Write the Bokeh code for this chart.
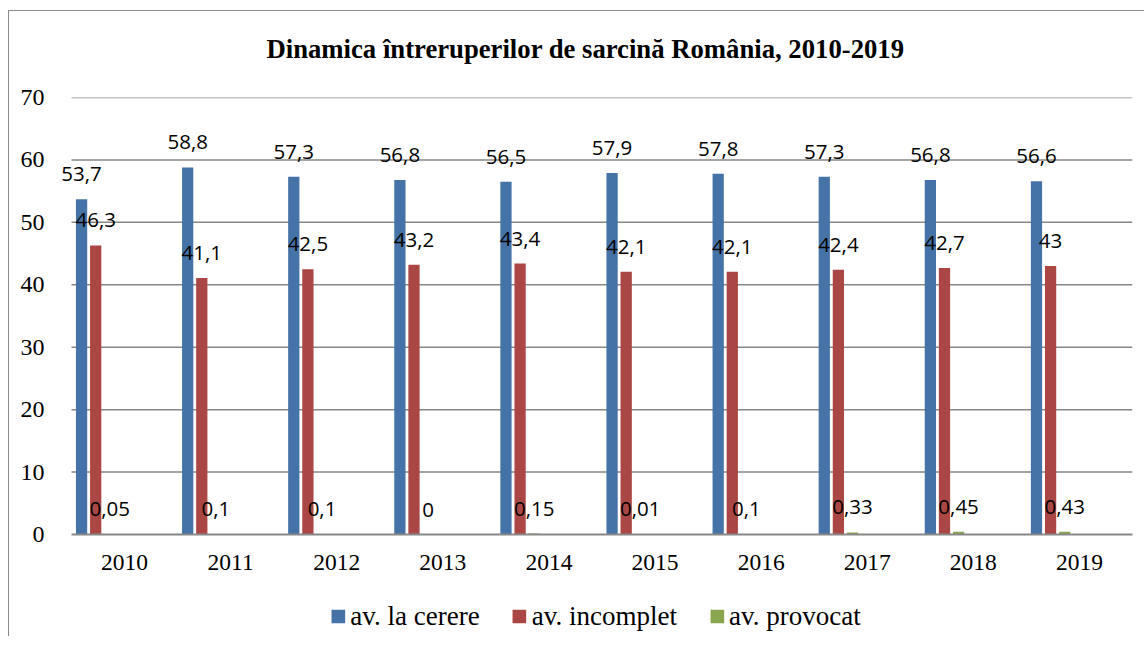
from bokeh.plotting import figure
from bokeh.models import (ColumnDataSource, Range1d, LabelSet, Legend, LegendItem, FixedTicker, Title)
from bokeh.transform import dodge
from bokeh.layouts import column
from bokeh.core.properties import value
from bokeh.embed import file_html
from bokeh.resources import INLINE

years = ["2010", "2011", "2012", "2013", "2014", "2015", "2016", "2017", "2018", "2019"]
la_cerere = [53.7, 58.8, 57.3, 56.8, 56.5, 57.9, 57.8, 57.3, 56.8, 56.6]
incomplet = [46.3, 41.1, 42.5, 43.2, 43.4, 42.1, 42.1, 42.4, 42.7, 43]
provocat = [0.05, 0.1, 0.1, 0, 0.15, 0.01, 0.1, 0.33, 0.45, 0.43]
series_names = ["av. la cerere", "av. incomplet", "av. provocat"]
colors = ["#4572A7", "#AA4643", "#89A54E"]
yticks = [0, 10, 20, 30, 40, 50, 60, 70]

def fmt(v):
    return ("%g" % v).replace(".", ",")

xs = list(range(len(years)))
src = ColumnDataSource(dict(
    x=xs,
    a=la_cerere, b=incomplet, c=provocat,
    ta=[fmt(v) for v in la_cerere],
    tb=[fmt(v) for v in incomplet],
    tc=[fmt(v) for v in provocat],
))

left_pad = 0.1225  # extra room left of first category for the first label
x_start, x_end = -0.5, len(years) - 0.5

p = figure(x_range=Range1d(x_start - left_pad, x_end), y_range=Range1d(yticks[0], yticks[-1]),
           width=1135, height=585, output_backend="svg", toolbar_location=None,
           min_border_left=49, min_border_right=12, min_border_top=86, min_border_bottom=62)

p.title.text = "Dinamica întreruperilor de sarcină România, 2010-2019"
p.title.align = "left"
p.title.offset = 208
p.title.text_font = "Liberation Serif"
p.title.text_font_style = "bold"
p.title.text_font_size = "26.7px"
p.title.text_color = "black"
p.title.standoff = 0
# empty spacer between title and plot area
spacer = Title(text=" ", text_font_size="1px", standoff=31)
p.above = [spacer] + list(p.above)

# horizontal grid lines (drawn as segments so they start at the first category edge)
grid_src = ColumnDataSource(dict(y=yticks[1:], x0=[x_start] * (len(yticks) - 1),
                                 x1=[x_end] * (len(yticks) - 1)))
p.segment(x0="x0", x1="x1", y0="y", y1="y", source=grid_src, line_color="#878787", line_width=1.5)

offsets = [-0.405, -0.272, -0.139]
bw = 0.106
renderers = []
for key, off, col in zip(["a", "b", "c"], offsets, colors):
    r = p.vbar(x=dodge("x", off), top=key, width=bw, bottom=0,
               source=src, fill_color=col, line_color=None)
    renderers.append(r)
    lab = LabelSet(x=dodge("x", off), y=key, text="t" + key, source=src,
                   text_align="center", text_baseline="middle", y_offset=25,
                   text_font=value("Open Sans"), text_font_size="20.5px", text_color="black")
    p.add_layout(lab)

p.yaxis.ticker = FixedTicker(ticks=yticks)
p.yaxis.axis_line_color = None
p.yaxis.major_tick_line_color = None
p.yaxis.minor_tick_line_color = None
p.yaxis.major_label_standoff = 8
p.yaxis.major_label_text_font = "Liberation Serif"
p.yaxis.major_label_text_font_size = "24px"
p.yaxis.major_label_text_color = "black"

p.xaxis.ticker = FixedTicker(ticks=xs)
p.xaxis.major_label_overrides = {i: y for i, y in zip(xs, years)}
p.xaxis.bounds = (x_start, x_end)
p.xaxis.axis_line_color = "#878787"
p.xaxis.axis_line_width = 2
p.xaxis.major_tick_line_color = None
p.xaxis.minor_tick_line_color = None
p.xaxis.major_label_standoff = 14
p.xaxis.major_label_text_font = "Liberation Serif"
p.xaxis.major_label_text_font_size = "23.5px"
p.xaxis.major_label_text_color = "black"

p.xgrid.grid_line_color = None
p.ygrid.grid_line_color = None
p.outline_line_color = None

# legend strip below the chart
p2 = figure(x_range=p.x_range, y_range=Range1d(1000, 1001), width=1135, height=40,
            output_backend="svg", toolbar_location=None,
            min_border_left=0, min_border_right=6, min_border_top=0, min_border_bottom=0)
leg_renderers = []
for key, off, col in zip(["a", "b", "c"], offsets, colors):
    leg_renderers.append(p2.vbar(x=dodge("x", off), top=key, width=bw, bottom=0,
                                 source=src, fill_color=col, line_color=None))
p2.axis.visible = False
p2.xgrid.grid_line_color = None
p2.ygrid.grid_line_color = None
p2.outline_line_color = None
legend = Legend(items=[LegendItem(label=n, renderers=[r]) for n, r in zip(series_names, leg_renderers)],
                orientation="horizontal", location="center",
                label_text_font="Liberation Serif", label_text_font_size="27px",
                label_text_color="black", glyph_width=17, glyph_height=17,
                spacing=31, label_standoff=4, border_line_color=None,
                background_fill_alpha=0, padding=0, margin=0)
p2.add_layout(legend)

layout = column(p, p2, margin=(10, 0, 0, 8),
                styles={"border-top": "1px solid #8a8a8a", "border-left": "1px solid #8a8a8a"})

open("out.html", "w").write(file_html(layout, INLINE))
